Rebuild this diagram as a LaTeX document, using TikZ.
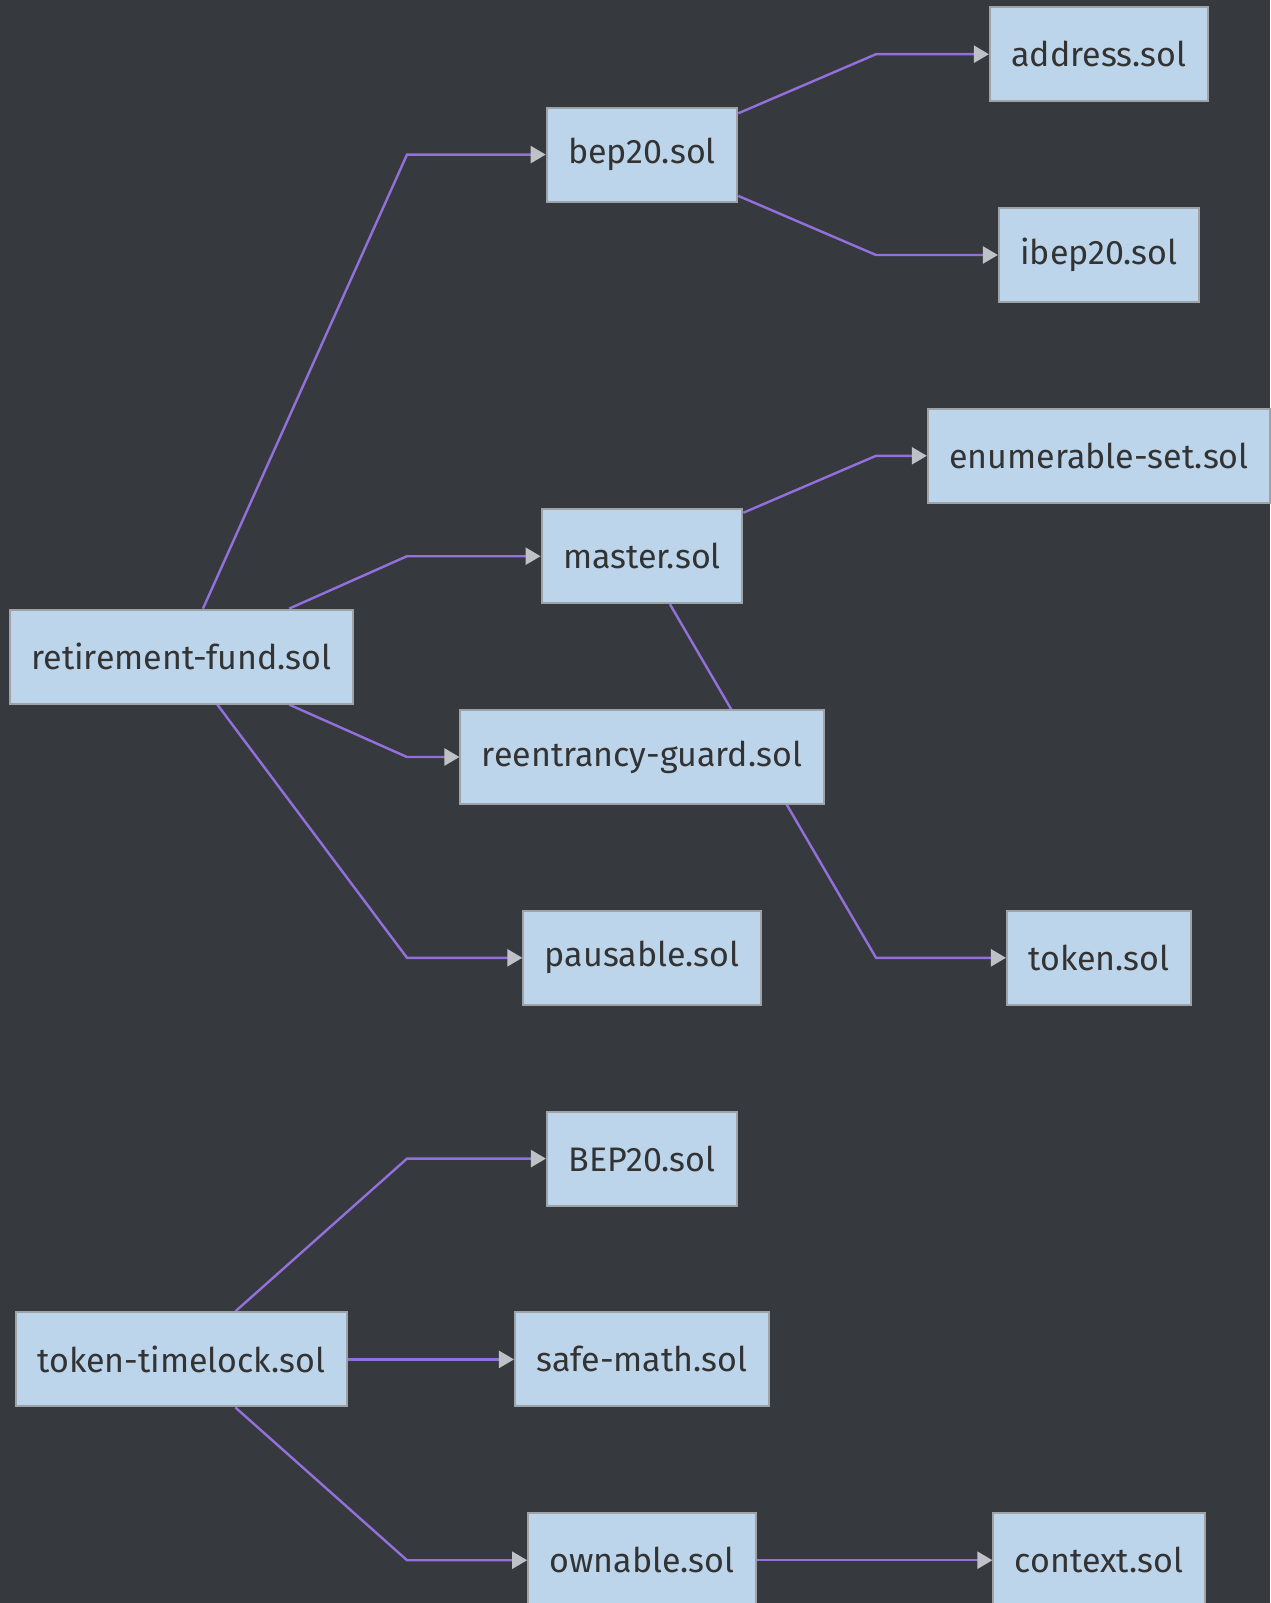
\documentclass[tikz,border=0pt]{standalone}
\usepackage{fontspec}
\setmainfont{Fira Sans}
\usetikzlibrary{arrows.meta, backgrounds}
\definecolor{pagebg}{RGB}{54,58,63}
\definecolor{filefill}{RGB}{189,213,234}
\definecolor{fileline}{RGB}{158,163,168}
\definecolor{filetext}{RGB}{51,51,51}
\definecolor{linkline}{RGB}{147,112,219}
\definecolor{tipgray}{RGB}{190,193,198}
\tikzset{
  file/.style = {
    rectangle, draw=fileline, fill=filefill, line width=2pt,
    text=filetext, font=\fontsize{34}{40}\selectfont,
    minimum height=94pt, inner xsep=21.5pt
  },
  dep/.style = {-{Triangle[length=15pt, width=17pt, color=tipgray]},
    line width=2.4pt, linkline}
}
\begin{document}
\begin{tikzpicture}[x=1pt, y=-1pt]
\useasboundingbox (0,0) rectangle (1270,1603);

% columns of bends
\coordinate (bendA) at (407,0);
\coordinate (bendB) at (876,0);

% retirement fund and its imports
\node[file] (rf)     at (181.5, 656.6) {retirement-fund.sol};
\node[file] (bep20)  at (642, 154.6)   {bep20.sol};
\node[file] (master) at (642, 556.2)   {master.sol};
\node[file] (guard)  at (642, 757.0)   {reentrancy-guard.sol};
\node[file] (pause)  at (642, 957.8)   {pausable.sol};
\node[file] (addr)   at (1099, 54.2)   {address.sol};
\node[file] (ibep)   at (1099, 255.0)  {ibep20.sol};
\node[file] (enum)   at (1099, 455.8)  {enumerable-set.sol};
\node[file] (token)  at (1099, 957.8)  {token.sol};

% token timelock and its imports
\node[file] (tl)     at (181.5, 1359.4) {token-timelock.sol};
\node[file] (bepb)   at (642, 1158.6)   {BEP20.sol};
\node[file] (safe)   at (642, 1359.4)   {safe-math.sol};
\node[file] (own)    at (642, 1560.2)   {ownable.sol};
\node[file] (ctx)    at (1099, 1560.2)  {context.sol};

\begin{scope}[on background layer]
\fill[pagebg] (0,0) rectangle (1270,1603);
\foreach \a/\b in {rf/bep20, rf/master, rf/guard, rf/pause, tl/bepb, tl/own}
  \draw[dep] (\a) -- (bendA |- \b) -- (\b);
\foreach \a/\b in {bep20/addr, bep20/ibep, master/enum, master/token}
  \draw[dep] (\a) -- (bendB |- \b) -- (\b);
\draw[dep] (tl) -- (safe);
\draw[dep] (own) -- (ctx);
\end{scope}

\end{tikzpicture}
\end{document}
